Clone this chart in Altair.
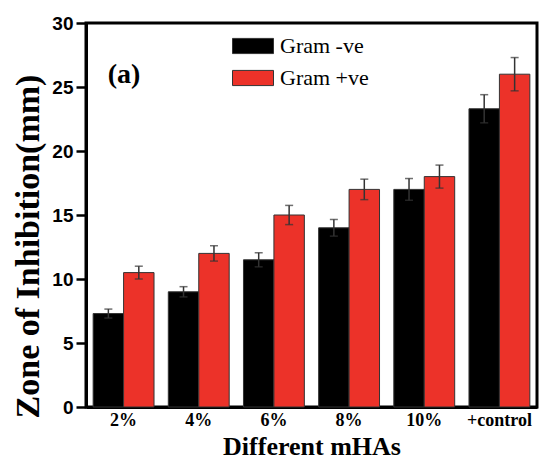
import altair as alt
import pandas as pd

categories = ["2%", "4%", "6%", "8%", "10%", "+control"]
series = ["Gram -ve", "Gram +ve"]
gram_neg = [7.3, 9.0, 11.5, 14.0, 17.0, 23.3]
gram_neg_err = [0.35, 0.4, 0.55, 0.65, 0.85, 1.1]
gram_pos = [10.5, 12.0, 15.0, 17.0, 18.0, 26.0]
gram_pos_err = [0.5, 0.6, 0.75, 0.8, 0.9, 1.3]
colors = ["#000000", "#EC3229"]

rows = []
for i, c in enumerate(categories):
    rows.append({"cat": c, "series": series[0], "v": gram_neg[i], "e": gram_neg_err[i]})
    rows.append({"cat": c, "series": series[1], "v": gram_pos[i], "e": gram_pos_err[i]})
df = pd.DataFrame(rows)
df["lo"] = df["v"] - df["e"]
df["hi"] = df["v"] + df["e"]

serif = "Liberation Serif"
sans = "Liberation Sans"

xenc = alt.X("cat:N", sort=categories,
             scale=alt.Scale(paddingInner=0.19, paddingOuter=0.095),
             axis=alt.Axis(title="Different mHAs", labelAngle=0, ticks=False,
                           titleY=47, titleBaseline="alphabetic"))
xoff = alt.XOffset("series:N", sort=series, scale=alt.Scale(paddingInner=0, paddingOuter=0))
color = alt.Color("series:N", sort=series,
                  scale=alt.Scale(domain=series, range=colors),
                  legend=alt.Legend(title=None, orient="none", legendX=146, legendY=2,
                                    symbolType="M-1,-0.37L1,-0.37L1,0.37L-1,0.37Z",
                                    symbolSize=1681, symbolStrokeColor="#333",
                                    symbolStrokeWidth=1, symbolOpacity=1,
                                    labelOffset=6, rowPadding=-2, padding=0))

yscale = alt.Scale(domain=[0, 30], nice=False)

bars = alt.Chart(df).mark_bar(stroke="#333", strokeWidth=1, opacity=1).encode(
    x=xenc,
    xOffset=xoff,
    y=alt.Y("v:Q", scale=yscale,
            axis=alt.Axis(title="Zone of Inhibition(mm)", values=[0, 5, 10, 15, 20, 25, 30],
                          titleX=-48, titleY=223, titleBaseline="alphabetic",
                          titleAngle=270)),
    color=color,
)

rules = alt.Chart(df).mark_rule(color="#333", strokeWidth=1.5).encode(
    x=alt.X("cat:N", sort=categories), xOffset=xoff,
    y=alt.Y("lo:Q", scale=yscale), y2="hi:Q")
cap_hi = alt.Chart(df).mark_tick(color="#333", size=8, thickness=1.5, orient="horizontal").encode(
    x=alt.X("cat:N", sort=categories), xOffset=xoff, y=alt.Y("hi:Q", scale=yscale))
cap_lo = alt.Chart(df).mark_tick(color="#333", size=8, thickness=1.5, orient="horizontal").encode(
    x=alt.X("cat:N", sort=categories), xOffset=xoff, y=alt.Y("lo:Q", scale=yscale))

label = alt.Chart(pd.DataFrame({"t": ["(a)"]})).mark_text(
    font=serif, fontWeight="bold", fontSize=28, color="black", align="center", baseline="middle"
).encode(x=alt.value(38), y=alt.value(52), text="t:N")

chart = alt.layer(bars, rules, cap_hi, cap_lo, label).properties(
    width=451, height=384,
    autosize=alt.AutoSizeParams(type="none"),
    padding={"left": 78, "top": 15, "right": 6, "bottom": 53},
).configure_view(
    stroke="black", strokeWidth=3
).configure_axis(
    grid=False, domainColor="black", domainWidth=3,
    labelColor="black", titleColor="black",
    titleFont=serif, titleFontWeight="bold",
).configure_axisX(
    labelFont=serif, labelFontWeight="bold", labelFontSize=18, labelPadding=4,
    titleFontSize=26,
).configure_axisY(
    labelFont=sans, labelFontWeight="bold", labelFontSize=19, labelPadding=3,
    tickSize=10, tickWidth=2.5, tickColor="black",
    titleFontSize=34,
).configure_legend(
    labelFont=serif, labelFontSize=22, labelColor="black",
)

chart.save("out.html", embed_options={"renderer": "svg", "actions": False})
